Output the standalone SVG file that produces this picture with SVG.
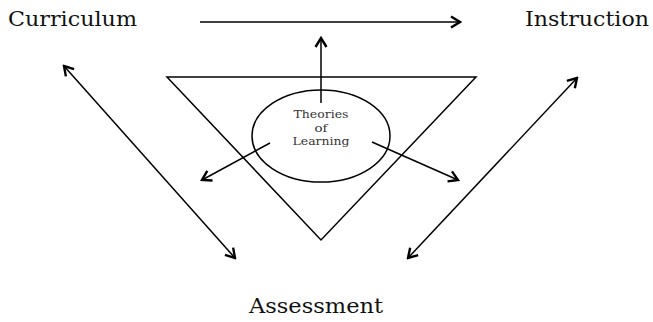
<svg xmlns="http://www.w3.org/2000/svg" width="653" height="322" viewBox="0 0 653 322">
<style>
.lbl{font-family:"DejaVu Serif","Liberation Serif",serif;font-size:19.5px;fill:#111}
.small{font-family:"DejaVu Serif","Liberation Serif",serif;font-size:11px;fill:#333;text-anchor:middle}
.ln{stroke:#000;stroke-width:1.5;fill:none}
</style>
<defs>
<marker id="ah" viewBox="0 0 14 14" refX="12" refY="7" markerWidth="14" markerHeight="14" markerUnits="userSpaceOnUse" orient="auto-start-reverse">
<path d="M3,1.5 L12,7 L3,12.5" fill="none" stroke="#000" stroke-width="2.4"/>
</marker>
</defs>
<rect width="653" height="322" fill="#fff"/>
<g id="curriculum"><text class="lbl" x="8" y="26" textLength="129" lengthAdjust="spacingAndGlyphs">Curriculum</text></g>
<g id="instruction"><text class="lbl" x="525" y="26" textLength="124" lengthAdjust="spacingAndGlyphs">Instruction</text></g>
<g id="assessment"><text class="lbl" x="249" y="313" textLength="134" lengthAdjust="spacingAndGlyphs">Assessment</text></g>
<g id="triangle"><polygon points="167,77 476,77 321,240" fill="none" stroke="#000" stroke-width="1.5"/></g>
<g id="theories">
<ellipse cx="321" cy="136" rx="69" ry="46" fill="#fff" stroke="#000" stroke-width="1.5"/>
<text class="small" x="321" y="118" textLength="55" lengthAdjust="spacingAndGlyphs">Theories</text>
<text class="small" x="321" y="131.5" textLength="13" lengthAdjust="spacingAndGlyphs">of</text>
<text class="small" x="321" y="145" textLength="57" lengthAdjust="spacingAndGlyphs">Learning</text>
</g>
<g id="connectors">
<line class="ln" x1="200" y1="22" x2="460" y2="22" marker-end="url(#ah)"/>
<line class="ln" x1="321" y1="103" x2="321" y2="38" marker-end="url(#ah)"/>
<line class="ln" x1="270" y1="143" x2="202" y2="180" marker-end="url(#ah)"/>
<line class="ln" x1="372" y1="142" x2="458" y2="180" marker-end="url(#ah)"/>
<line class="ln" x1="64" y1="66" x2="235" y2="258" marker-start="url(#ah)" marker-end="url(#ah)"/>
<line class="ln" x1="577" y1="78" x2="408" y2="258" marker-start="url(#ah)" marker-end="url(#ah)"/>
</g>
</svg>
